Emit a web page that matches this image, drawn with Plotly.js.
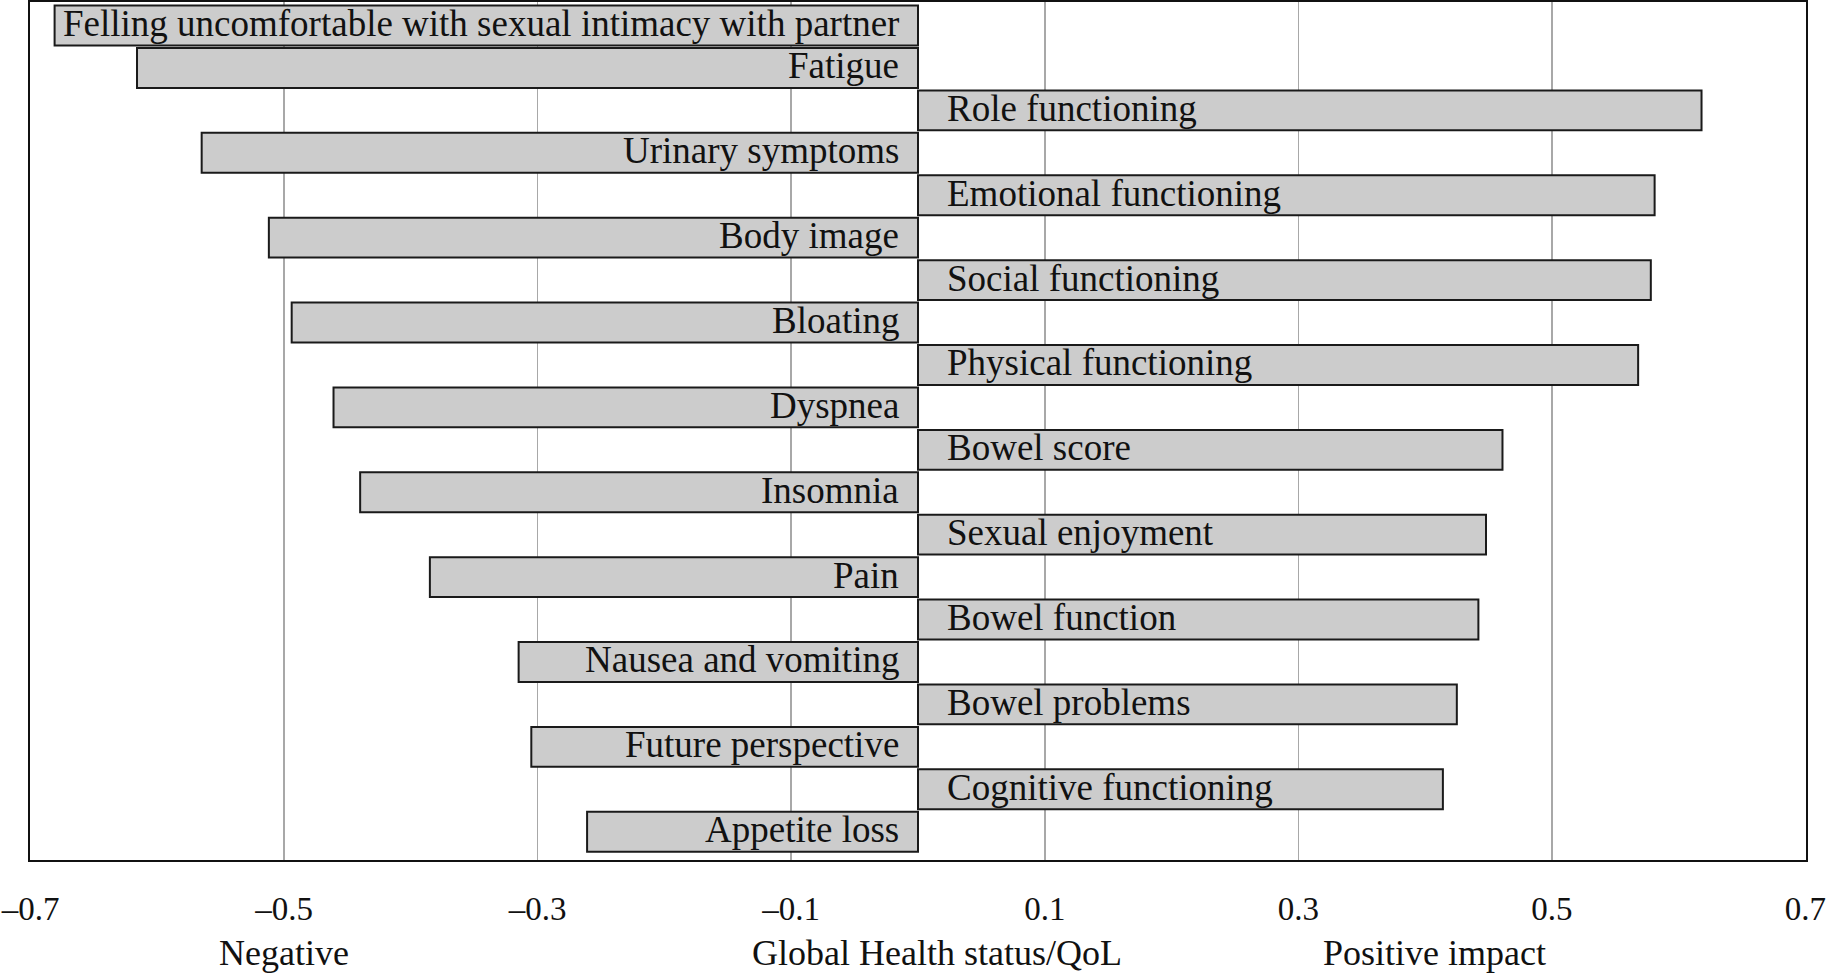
<!DOCTYPE html>
<html>
<head>
<meta charset="utf-8">
<script src="https://cdn.plot.ly/plotly-3.0.1.min.js"></script>
<style>html,body{margin:0;padding:0;background:#fff;}#chart{width:1829px;height:973px;}</style>
</head>
<body>
<div id="chart"></div>
<script>
// Categories, top to bottom
const categories = [
  "Felling uncomfortable with sexual intimacy with partner",
  "Fatigue",
  "Role functioning",
  "Urinary symptoms",
  "Emotional functioning",
  "Body image",
  "Social functioning",
  "Bloating",
  "Physical functioning",
  "Dyspnea",
  "Bowel score",
  "Insomnia",
  "Sexual enjoyment",
  "Pain",
  "Bowel function",
  "Nausea and vomiting",
  "Bowel problems",
  "Future perspective",
  "Cognitive functioning",
  "Appetite loss"
];
const values = [
  -0.681, -0.616, 0.618, -0.565, 0.581, -0.512, 0.578, -0.494, 0.568, -0.461,
  0.461, -0.440, 0.448, -0.385, 0.442, -0.315, 0.425, -0.305, 0.414, -0.261
];
const tickVals = [-0.7, -0.5, -0.3, -0.1, 0.1, 0.3, 0.5, 0.7];
const tickText = ["\u20130.7", "\u20130.5", "\u20130.3", "\u20130.1", "0.1", "0.3", "0.5", "0.7"];
const bottomLabels = ["Negative", "Global Health status/QoL", "Positive impact"];
const bottomLabelX = [-0.5, 0.015, 0.407];

const FONT = "Liberation Serif, Times New Roman, serif";

const trace = {
  type: "bar",
  orientation: "h",
  x: values,
  y: categories,
  width: 0.94,
  marker: {color: "#cccccc", line: {color: "#1a1a1a", width: 2}},
  hoverinfo: "x+y"
};

const annotations = categories.map((c, i) => ({
  x: 0, y: c, xref: "x", yref: "y",
  text: c,
  showarrow: false,
  xanchor: values[i] < 0 ? "right" : "left",
  yanchor: "middle",
  xshift: values[i] < 0 ? -17 : 27,
  yshift: 2,
  font: {family: FONT, size: 37, color: "#111"}
}));
bottomLabels.forEach((t, i) => annotations.push({
  x: bottomLabelX[i], y: 0, xref: "x", yref: "paper",
  text: t, showarrow: false, xanchor: "center", yanchor: "top",
  yshift: -71,
  font: {family: FONT, size: 36, color: "#111"}
}));

const layout = {
  width: 1829, height: 973,
  margin: {l: 30, r: 23, t: 2, b: 113},
  paper_bgcolor: "#fff", plot_bgcolor: "#fff",
  showlegend: false,
  font: {family: FONT, size: 33, color: "#111"},
  xaxis: {
    range: [-0.7004, 0.7004],
    tickvals: tickVals, ticktext: tickText,
    showgrid: true, gridcolor: "#a8a8a8", gridwidth: 1.5,
    zeroline: false,
    showline: true, linecolor: "#111", linewidth: 2, mirror: true,
    ticks: "", ticklabelstandoff: 18,
    ticklabeloverflow: "allow",
    tickfont: {family: FONT, size: 33, color: "#111"}
  },
  yaxis: {
    type: "category",
    range: [19.667, -0.554],
    showticklabels: false,
    showgrid: false, zeroline: false,
    showline: true, linecolor: "#111", linewidth: 2, mirror: true,
    ticks: ""
  },
  annotations: annotations
};

Plotly.newPlot("chart", [trace], layout, {displayModeBar: false, staticPlot: true});
</script>
</body>
</html>
